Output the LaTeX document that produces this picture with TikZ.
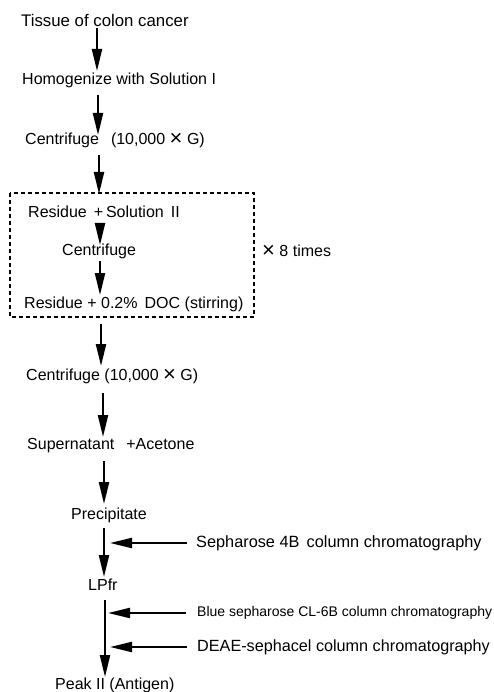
\documentclass[tikz,border=0pt]{standalone}
\usepackage{fontspec}
\setmainfont{Liberation Sans}
\usetikzlibrary{arrows.meta}
\newcommand{\bigx}{\raisebox{-1pt}{\fontsize{22}{22}\selectfont\texttimes}}
\begin{document}
\begin{tikzpicture}[x=1pt,y=-1pt,
  lbl/.style={anchor=west, inner sep=0pt, font=\fontsize{16}{18}\selectfont},
  sml/.style={anchor=west, inner sep=0pt, font=\fontsize{14}{16}\selectfont},
  arr/.style={line width=2.4pt, -{Triangle[length=22pt,width=10pt]}},
  sarr/.style={line width=2.2pt, -{Triangle[length=22pt,width=10pt]}},
  loopbox/.style={line width=1.1pt, dash pattern=on 4pt off 3pt}
]
\useasboundingbox (0,0) rectangle (493,692);

% texts
\node[lbl, font=\fontsize{16.8}{18}\selectfont] (t1) at (21,20) {Tissue of colon cancer};
\node[lbl] (t2) at (22,80) {Homogenize with Solution I};
\node[lbl] (t3) at (25,140) {Centrifuge\hspace{12pt}(10,000 \bigx{} G)};
\node[lbl] (t4) at (28,212) {Residue \,+\,Solution\, II};
\node[lbl] (t5) at (62,251) {Centrifuge};
\node[lbl] (t6) at (262,251) {\bigx{} 8 times};
\node[lbl] (t7) at (24,304) {Residue + 0.2\%\, DOC (stirring)};
\node[lbl] (t8) at (26,376) {Centrifuge (10,000 \bigx{} G)};
\node[lbl] (t9) at (27,446) {Supernatant\hspace{12pt}+Acetone};
\node[lbl] (t10) at (71,515) {Precipitate};
\node[lbl, font=\fontsize{16.3}{18}\selectfont] (t11) at (196,543) {Sepharose 4B\, column chromatography};
\node[lbl] (t12) at (88,585) {LPfr};
\node[sml] (t13) at (197,613) {Blue sepharose CL-6B column chromatography};
\node[lbl, font=\fontsize{16.2}{18}\selectfont] (t14) at (197,647) {DEAE-sephacel column chromatography};
\node[lbl] (t15) at (55,685) {Peak II (Antigen)};

% dashed repeat box
\draw[loopbox] (10,193) rectangle (254,317);

% main arrows
\draw[arr] (97,28) -- (97,71);
\draw[arr] (98,95) -- (98,135);
\draw[arr] (99,155) -- (99,194);
\draw[arr] (100,227) -- (100,245);
\draw[arr] (100,261) -- (100,295);
\draw[arr] (101,324) -- (101,366);
\draw[arr] (103,393) -- (103,437);
\draw[arr] (104,461) -- (104,504);
\draw[arr] (104,528) -- (104,577);
\draw[arr] (105,600) -- (105,677);

% side arrows
\draw[sarr] (t11.west) ++(-9,0) -- (110,543);
\draw[sarr] (t13.west) ++(-11,0) -- (108,613);
\draw[sarr] (t14.west) ++(-10,0) -- (110,647);
\end{tikzpicture}
\end{document}
